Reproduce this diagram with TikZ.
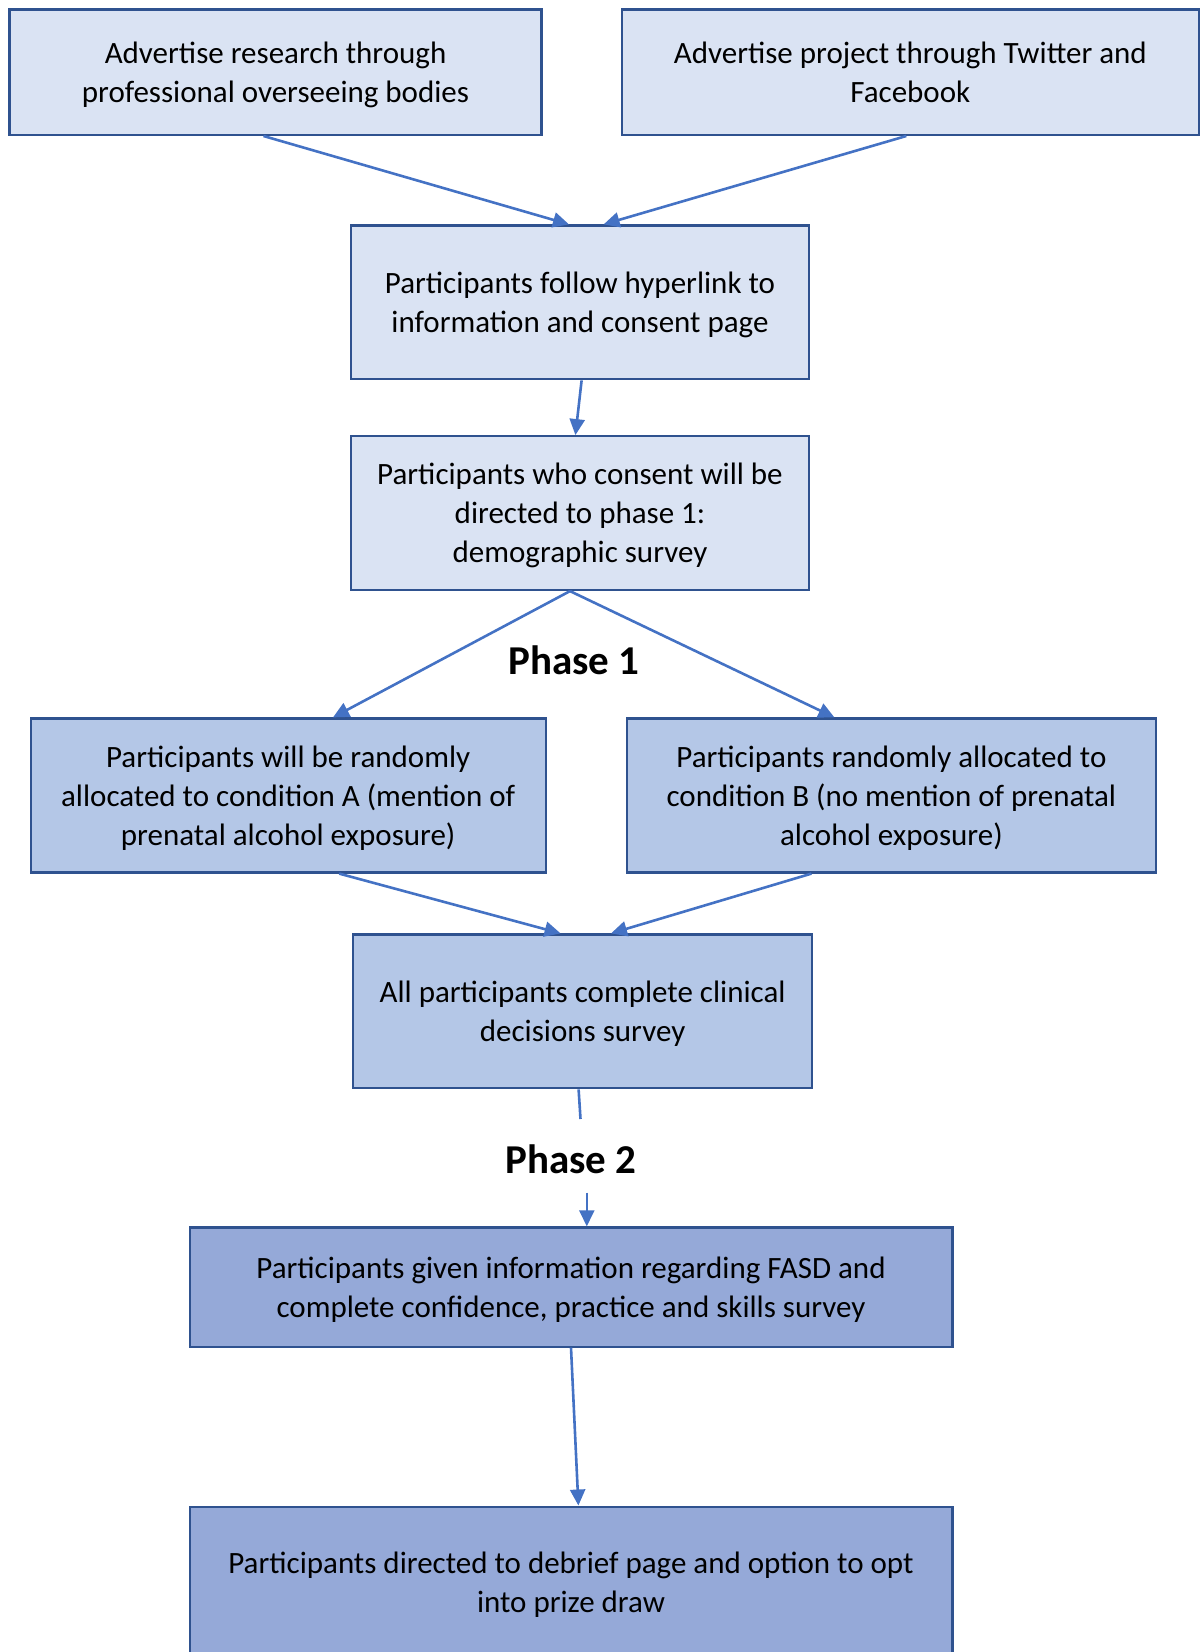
\documentclass[tikz,border=0pt]{standalone}
\usepackage{fontspec}
\setmainfont{Carlito}
\usetikzlibrary{arrows.meta}
\definecolor{boxline}{HTML}{2F528F}
\definecolor{arrowblue}{HTML}{4472C4}
\definecolor{paleblue}{HTML}{DAE3F3}
\definecolor{midblue}{HTML}{B4C7E7}
\definecolor{deepblue}{HTML}{95A9D8}
\begin{document}
\begin{tikzpicture}[x=0.5pt, y=-0.5pt,
        stagebox/.style={draw=boxline, line width=1.1pt, align=center, inner sep=0pt, text depth=-2.6pt,
            font=\fontsize{15.5}{19.5}\selectfont},
        flow/.style={draw=arrowblue, line width=1.3pt, -{Triangle[length=8pt, width=7.5pt]}},
        phaselabel/.style={font=\fontsize{20.5}{24}\selectfont\bfseries}]
    \useasboundingbox (0,0) rectangle (1200,1652);
    \clip (0,0) rectangle (1200,1652);
    % recruitment
    \node[stagebox, fill=paleblue, minimum width=266pt, minimum height=62.7pt] (adresearch) at (275.5,72.2) {Advertise research through\\professional overseeing bodies};
    \node[stagebox, fill=paleblue, minimum width=288.7pt, minimum height=62.7pt] (adproject) at (910.3,72.2) {Advertise project through Twitter and\\Facebook};
    \node[stagebox, fill=paleblue, minimum width=229.2pt, minimum height=76.9pt] (hyperlink) at (580,302.4) {Participants follow hyperlink to\\information and consent page};
    \node[stagebox, fill=paleblue, minimum width=229.2pt, minimum height=76.9pt] (consent) at (580,513.1) {Participants who consent will be\\directed to phase 1:\\demographic survey};
    % phase 1
    \node[phaselabel] (phaseone) at (574,660.6) {Phase 1};
    \node[stagebox, fill=midblue, minimum width=257.6pt, minimum height=77pt] (condA) at (288.2,795.5) {Participants will be randomly\\allocated to condition A (mention of\\prenatal alcohol exposure)};
    \node[stagebox, fill=midblue, minimum width=264.5pt, minimum height=77pt] (condB) at (891.4,795.5) {Participants randomly allocated to\\condition B (no mention of prenatal\\alcohol exposure)};
    \node[stagebox, fill=midblue, minimum width=229.7pt, minimum height=76.9pt] (clinical) at (582.6,1011.4) {All participants complete clinical\\decisions survey};
    % phase 2
    \node[phaselabel] (phasetwo) at (571,1159) {Phase 2};
    \node[stagebox, fill=deepblue, minimum width=381.4pt, minimum height=59.6pt] (fasd) at (571,1287) {Participants given information regarding FASD and\\complete confidence, practice and skills survey};
    \node[stagebox, fill=deepblue, minimum width=381.4pt, minimum height=76pt] (debrief) at (571,1582.6) {Participants directed to debrief page and option to opt\\into prize draw};
    \coordinate (splittop) at (580.5,1119);
    \coordinate (splitbot) at (586.8,1192.6);
    % connectors
    \draw[flow] ([xshift=-6pt]adresearch.south) -- ([xshift=-5.5pt]hyperlink.north);
    \draw[flow] ([xshift=-2pt]adproject.south) -- ([xshift=11.8pt]hyperlink.north);
    \draw[flow] ([xshift=0.8pt]hyperlink.south) -- ([xshift=-2.3pt]consent.north);
    \draw[flow] ([xshift=-5pt]consent.south) -- ([xshift=22.4pt]condA.north);
    \draw[flow] ([xshift=-5pt]consent.south) -- ([xshift=-28.5pt]condB.north);
    \draw[flow] ([xshift=25.5pt]condA.south) -- ([xshift=-11pt]clinical.north);
    \draw[flow] ([xshift=-40pt]condB.south) -- ([xshift=14.2pt]clinical.north);
    \draw[draw=arrowblue, line width=1.3pt] ([xshift=-2pt]clinical.south) -- (splittop);
    \draw[flow] (splitbot) -- ([xshift=7.9pt]fasd.north);
    \draw[flow] (fasd.south) -- ([xshift=3.7pt]debrief.north);
\end{tikzpicture}
\end{document}
